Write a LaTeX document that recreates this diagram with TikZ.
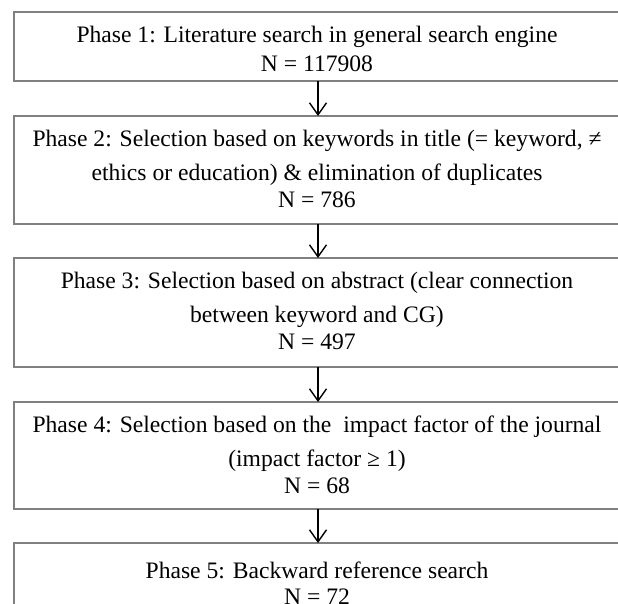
\documentclass[tikz,border=0pt]{standalone}
\usepackage{fontspec}
\setmainfont{Liberation Serif}
\usetikzlibrary{arrows.meta}
\definecolor{boxline}{RGB}{128,128,128}
\tikzset{
  x=1pt, y=-1pt,
  phasebox/.style={draw=boxline, line width=1.3pt, rectangle, inner sep=0pt, outer sep=0pt,
                   minimum width=608pt},
  line/.style={anchor=base, inner sep=0pt, font=\fontsize{23.6}{28}\selectfont},
  flow/.style={draw=black, line width=1.4pt, -{Straight Barb[length=12pt, width=17pt, line width=1.4pt]}}
}
\begin{document}
\begin{tikzpicture}
\useasboundingbox (0,0) rectangle (618,603);
\fill[white] (0,0) rectangle (618,603);

% phase boxes
\node[phasebox, minimum height=69pt]  (b1) at (318,46.5) {};
\node[phasebox, minimum height=108pt] (b2) at (318,170) {};
\node[phasebox, minimum height=109pt] (b3) at (318,312.5) {};
\node[phasebox, minimum height=107pt] (b4) at (318,455.5) {};
\node[phasebox, minimum height=108pt] (b5) at (318,597) {};

% box texts
\node[line] (t1a) at (317,42)  {Phase 1: Literature search in general search engine};
\node[line] (t1b) at (317,71)  {N = 117908};

\node[line] (t2a) at (317,146) {Phase 2: Selection based on keywords in title (= keyword, ≠};
\node[line] (t2b) at (317,180) {ethics or education) \& elimination of duplicates};
\node[line] (t2c) at (317,207) {N = 786};

\node[line] (t3a) at (317,288) {Phase 3: Selection based on abstract (clear connection};
\node[line] (t3b) at (317,322) {between keyword and CG)};
\node[line] (t3c) at (317,349) {N = 497};

\node[line] (t4a) at (317,432) {Phase 4: Selection based on the\ \ impact factor of the journal};
\node[line] (t4b) at (317,466) {(impact factor ≥ 1)};
\node[line] (t4c) at (317,493) {N = 68};

\node[line] (t5a) at (317,578) {Phase 5: Backward reference search};
\node[line] (t5b) at (317,604) {N = 72};

% connectors
\draw[flow] (b1.south) -- (b2.north);
\draw[flow] (b2.south) -- (b3.north);
\draw[flow] (b3.south) -- (b4.north);
\draw[flow] (b4.south) -- (b5.north);
\end{tikzpicture}
\end{document}
